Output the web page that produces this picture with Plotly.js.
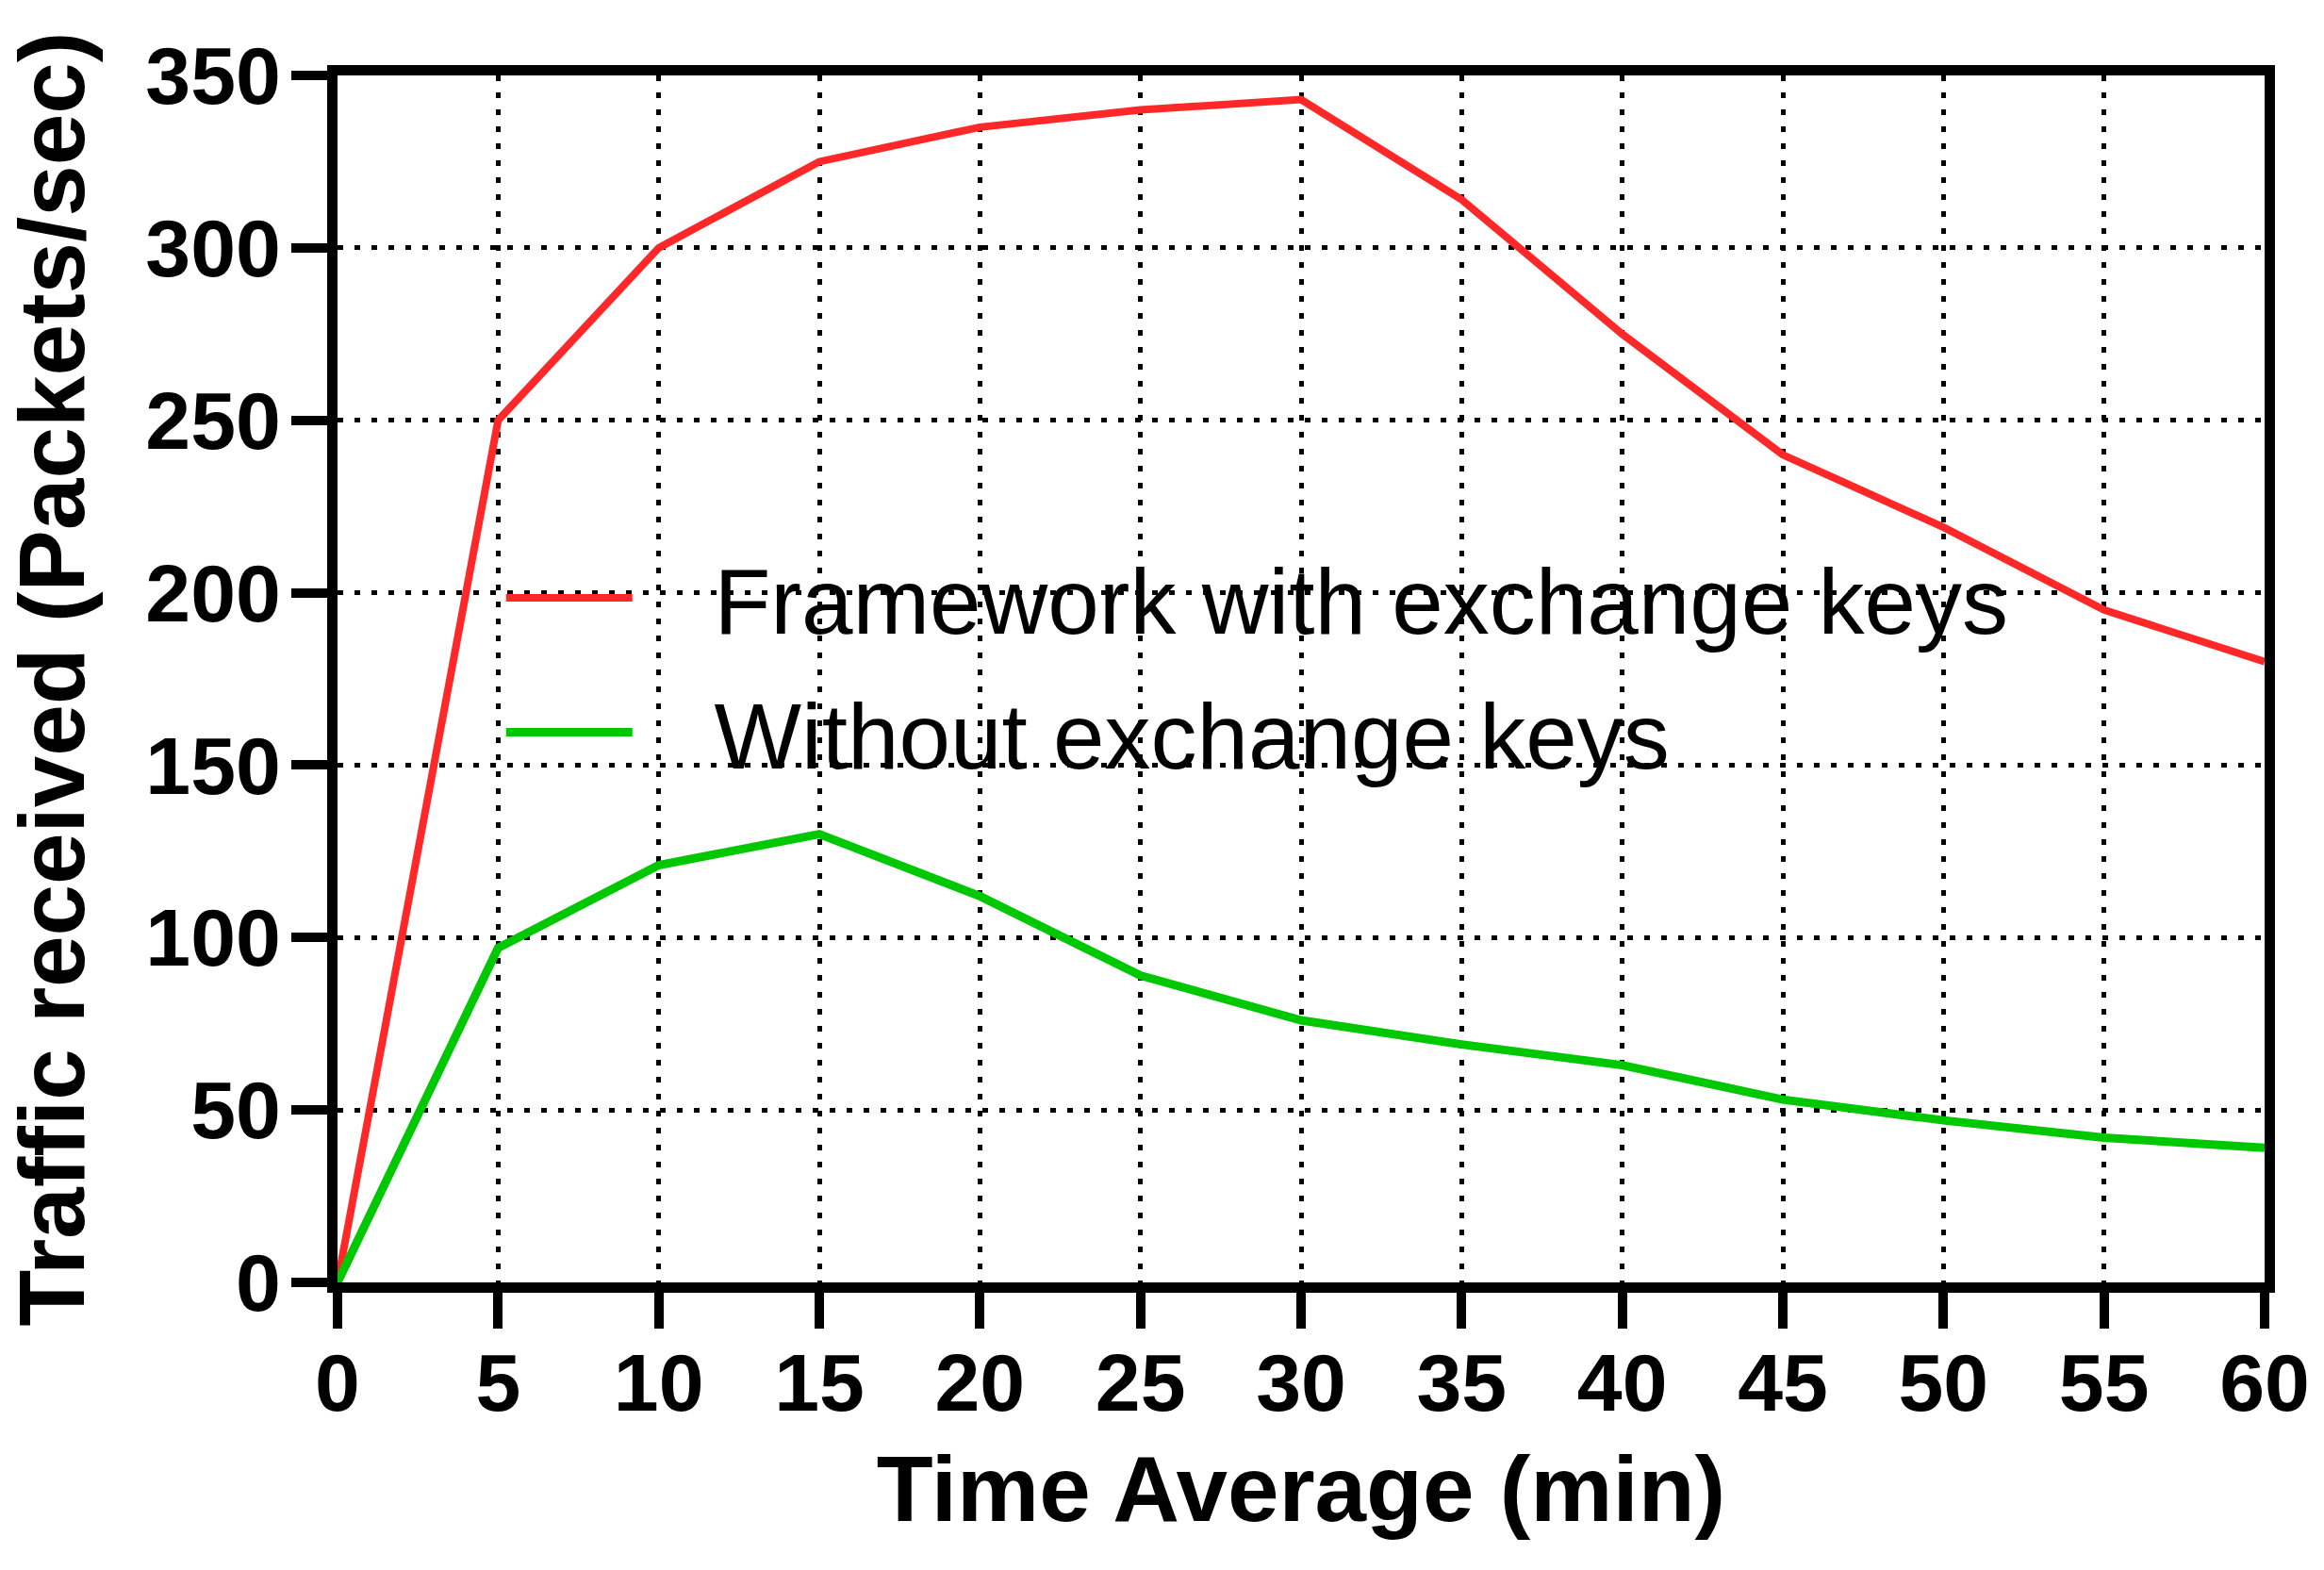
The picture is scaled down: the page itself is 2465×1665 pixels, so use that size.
<!DOCTYPE html>
<html>
<head>
<meta charset="utf-8">
<script src="https://cdn.plot.ly/plotly-3.0.1.min.js"></script>
<style>
body { margin: 0; background: #fff; }
#chart { width: 2465px; height: 1665px; }
</style>
</head>
<body>
<div id="chart"></div>
<script>
// values, one point every 5 min
const minutes = [0, 5, 10, 15, 20, 25, 30, 35, 40, 45, 50, 55, 60]
const withKeys = [0, 250, 300, 325, 335, 340, 343, 314, 275, 240, 219, 195, 180]
const withoutKeys = [0, 97, 121, 130, 112, 89, 76, 69, 63, 53, 47, 42, 39]
const xTicks = [0, 5, 10, 15, 20, 25, 30, 35, 40, 45, 50, 55, 60]
const yTicks = [0, 50, 100, 150, 200, 250, 300, 350]

const font = "'Liberation Sans', Arial, sans-serif"
const pad = '\u00a0\u00a0\u00a0'  // gap between legend line and label

const framework = {
    name: pad + "Framework with exchange keys",
    legendgroup: 'a',
    x: minutes,
    y: withKeys,
    mode: 'lines',
    line: {color: 'rgb(255, 40, 40)', width: 8}
}

const without = {
    name: pad + "Without exchange keys",
    legendgroup: 'b',
    x: minutes,
    y: withoutKeys,
    mode: 'lines',
    line: {color: 'rgb(0, 200, 0)', width: 9}
}

const axisStyle = {
    showline: true,
    linecolor: 'black',
    linewidth: 11,
    mirror: true,
    ticks: 'outside',
    ticklen: 38,
    tickwidth: 10,
    tickcolor: 'black',
    showgrid: true,
    gridcolor: 'black',
    gridwidth: 5,
    griddash: '6px,12px',
    zeroline: false,
    tickfont: {family: font, size: 86, color: 'black', weight: 'bold'}
}

const layout = {
    width: 2465,
    height: 1665,
    margin: {l: 358, r: 63, t: 80, b: 305},
    paper_bgcolor: 'white',
    plot_bgcolor: 'white',
    showlegend: true,
    legend: {
        x: 0.085,
        y: 0.622,
        xanchor: 'left',
        yanchor: 'top',
        bgcolor: 'rgba(0,0,0,0)',
        itemwidth: 134,
        tracegroupgap: 12,
        font: {family: font, size: 98, color: 'black'}
    },
    xaxis: Object.assign({}, axisStyle, {
        range: [0, 60],
        tickvals: xTicks,
        ticklabelstandoff: -16,
        title: {text: 'Time Average (min)', standoff: 36, font: {family: font, size: 98, color: 'black', weight: 'bold'}}
    }),
    yaxis: Object.assign({}, axisStyle, {
        range: [0, 350],
        tickvals: yTicks,
        ticklabelstandoff: -6,
        title: {text: 'Traffic received (Packets/sec)', standoff: 36, font: {family: font, size: 98, color: 'black', weight: 'bold'}}
    })
}

Plotly.newPlot('chart', [framework, without], layout, {staticPlot: true})
</script>
</body>
</html>
